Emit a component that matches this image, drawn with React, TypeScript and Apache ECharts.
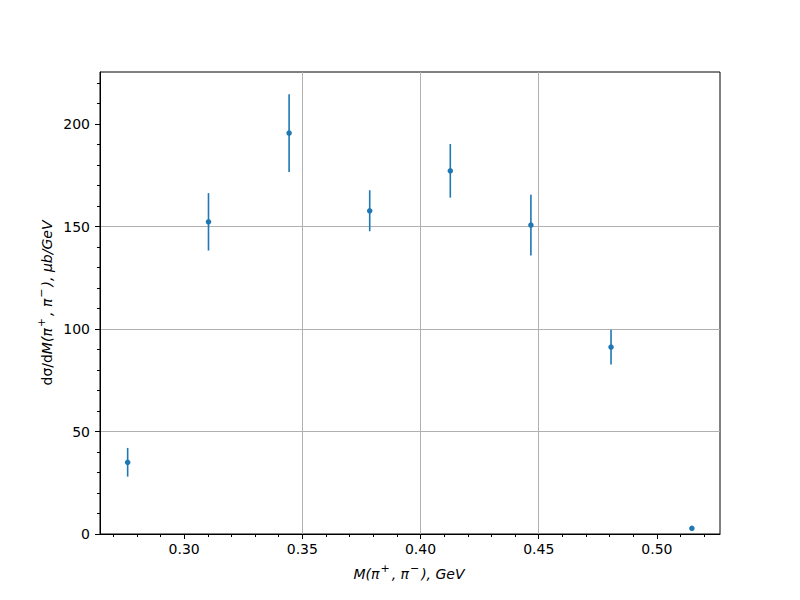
import React, { useEffect, useRef } from "react";
import * as echarts from "echarts";

const xValues = [0.2761, 0.3103, 0.3444, 0.3785, 0.4126, 0.4467, 0.4806, 0.5148];
const yValues = [35.0, 152.3, 195.6, 157.7, 177.2, 150.7, 91.2, 2.8];
const yErrors = [7.0, 14.0, 19.0, 10.0, 13.1, 14.8, 8.5, 0];

const xMajorTicks = [0.3, 0.35, 0.4, 0.45, 0.5];
const xMinorTicks = [0.27, 0.28, 0.29, 0.31, 0.32, 0.33, 0.34, 0.36, 0.37, 0.38, 0.39, 0.41, 0.42, 0.43, 0.44, 0.46, 0.47, 0.48, 0.49, 0.51, 0.52];
const yMajorTicks = [0, 50, 100, 150, 200];
const yMinorTicks = [10, 20, 30, 40, 60, 70, 80, 90, 110, 120, 130, 140, 160, 170, 180, 190, 210, 220];

const X_MIN = 0.2644;
const X_MAX = 0.5267;
const Y_MIN = 0;
const Y_MAX = 225.4;

const COLOR = "#1f77b4";
const FONT = "DejaVu Sans";

export default function App() {
  const ref = useRef<HTMLDivElement>(null);
  useEffect(() => {
    if (!ref.current) return;
    const chart = echarts.init(ref.current, null, { renderer: "svg" });
    const points = xValues.map((x, i) => [x, yValues[i], yErrors[i]]);
    const labelStyle = { color: "#000", fontSize: 14, fontFamily: FONT };
    const option: any = {
      animation: false,
      backgroundColor: "#fff",
      grid: {
        left: 100,
        right: 80,
        top: 72,
        bottom: 66,
        show: true,
        borderColor: "#000",
        borderWidth: 1,
        backgroundColor: "transparent",
      },
      xAxis: [
        {
          type: "value",
          min: X_MIN,
          max: X_MAX,
          minInterval: 0.05,
          maxInterval: 0.05,
          position: "bottom",
          axisLine: { show: true, onZero: false, lineStyle: { color: "#000", width: 1 } },
          axisTick: { show: true, length: 5, customValues: xMajorTicks, lineStyle: { color: "#000", width: 1 } },
          axisLabel: {
            ...labelStyle,
            margin: 8,
            customValues: xMajorTicks,
            formatter: (v: number) => v.toFixed(2),
          },
          splitLine: { show: true, showMinLine: false, showMaxLine: false, lineStyle: { color: "#b0b0b0", width: 1 } },
        },
        {
          type: "value",
          min: X_MIN,
          max: X_MAX,
          position: "bottom",
          axisLine: { show: false, onZero: false },
          axisTick: { show: true, length: 3, customValues: xMinorTicks, lineStyle: { color: "#000", width: 1 } },
          axisLabel: { show: false },
          splitLine: { show: false },
        },
      ],
      yAxis: [
        {
          type: "value",
          min: Y_MIN,
          max: Y_MAX,
          interval: 50,
          position: "left",
          axisLine: { show: true, onZero: false, lineStyle: { color: "#000", width: 1 } },
          axisTick: { show: true, length: 5, customValues: yMajorTicks, lineStyle: { color: "#000", width: 1 } },
          axisLabel: { ...labelStyle, margin: 10, customValues: yMajorTicks },
          splitLine: { show: true, showMinLine: false, showMaxLine: false, lineStyle: { color: "#b0b0b0", width: 1 } },
        },
        {
          type: "value",
          min: Y_MIN,
          max: Y_MAX,
          position: "left",
          axisLine: { show: false, onZero: false },
          axisTick: { show: true, length: 3, customValues: yMinorTicks, lineStyle: { color: "#000", width: 1 } },
          axisLabel: { show: false },
          splitLine: { show: false },
        },
      ],
      series: [
        {
          type: "custom",
          xAxisIndex: 0,
          yAxisIndex: 0,
          data: points,
          renderItem: (params: any, api: any) => {
            const x = api.value(0);
            const y = api.value(1);
            const e = api.value(2);
            if (!e) return null;
            const p1 = api.coord([x, y - e]);
            const p2 = api.coord([x, y + e]);
            return {
              type: "line",
              shape: { x1: p1[0], y1: p1[1], x2: p2[0], y2: p2[1] },
              style: { stroke: COLOR, lineWidth: 1.6 },
            };
          },
          z: 3,
        },
        {
          type: "scatter",
          xAxisIndex: 0,
          yAxisIndex: 0,
          data: points.map((p) => [p[0], p[1]]),
          symbol: "circle",
          symbolSize: 5.5,
          itemStyle: { color: COLOR, opacity: 1 },
          z: 4,
        },
      ],
      graphic: [
        {
          type: "text",
          x: 409,
          y: 572,
          style: {
            text: "{i|M(π}{s|+}{i|, π}{s|−}{i|), GeV}",
            align: "center",
            verticalAlign: "middle",
            fill: "#000",
            font: `italic 14px ${FONT}`,
            rich: {
              i: { fontSize: 14, fontStyle: "italic", fontFamily: FONT, fill: "#000", verticalAlign: "bottom", lineHeight: 18 },
              s: { fontSize: 11, fontStyle: "italic", fontFamily: FONT, fill: "#000", verticalAlign: "top", lineHeight: 18, padding: [0, 2, 0, 1] },
            },
          },
        },
        {
          type: "text",
          x: 45,
          y: 303,
          rotation: Math.PI / 2,
          style: {
            text: "{n|dσ/d}{i|M(π}{s|+}{i|, π}{s|−}{i|), μb/GeV}",
            align: "center",
            verticalAlign: "middle",
            fill: "#000",
            font: `14px ${FONT}`,
            rich: {
              n: { fontSize: 14, fontFamily: FONT, fill: "#000", verticalAlign: "bottom", lineHeight: 18 },
              i: { fontSize: 14, fontStyle: "italic", fontFamily: FONT, fill: "#000", verticalAlign: "bottom", lineHeight: 18 },
              s: { fontSize: 11, fontStyle: "italic", fontFamily: FONT, fill: "#000", verticalAlign: "top", lineHeight: 18, padding: [0, 2, 0, 1] },
            },
          },
        },
      ],
    };
    chart.setOption(option);
    return () => chart.dispose();
  }, []);
  return <div ref={ref} style={{ width: 800, height: 600, margin: -8 }} />;
}
